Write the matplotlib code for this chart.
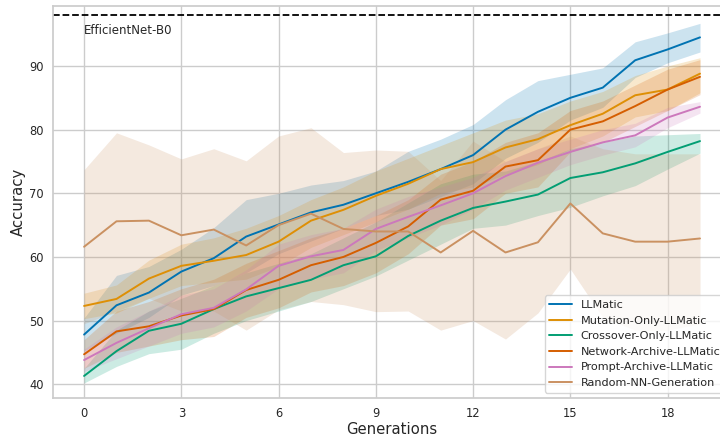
#!/usr/bin/env python3
"""Accuracy over generations for the LLMatic ablations, mean line with a shaded band."""

import matplotlib
matplotlib.use("Agg")
import matplotlib.pyplot as plt
import seaborn as sns

GENERATIONS = list(range(20))
BASELINE_ACC = 98.0          # EfficientNet-B0 reference
BASELINE_LABEL = "EfficientNet-B0"

SERIES_NAMES = ["LLMatic", "Mutation-Only-LLMatic", "Crossover-Only-LLMatic",
                "Network-Archive-LLMatic", "Prompt-Archive-LLMatic",
                "Random-NN-Generation"]

llmatic_mean = [47.8, 52.4, 54.4, 57.7, 59.8, 63.2, 65.1, 67.0, 68.2, 70.0,
                71.8, 73.8, 76.0, 80.0, 82.8, 85.0, 86.6, 90.9, 92.6, 94.5]
llmatic_hi = [50.4, 57.1, 58.5, 61.2, 64.6, 69.0, 70.0, 71.3, 72.0, 73.5,
              76.6, 78.5, 80.8, 84.7, 87.7, 88.7, 89.7, 93.8, 95.2, 96.7]
llmatic_lo = [45.2, 48.0, 50.5, 54.0, 55.5, 57.5, 60.5, 62.5, 64.5, 66.5,
              67.5, 69.5, 71.5, 75.5, 78.0, 81.5, 83.5, 88.2, 90.5, 92.2]

mutation_mean = [52.3, 53.4, 56.6, 58.6, 59.4, 60.3, 62.4, 65.7, 67.4, 69.6,
                 71.5, 73.8, 74.9, 77.2, 78.5, 80.7, 82.5, 85.4, 86.3, 88.8]
mutation_hi = [54.3, 55.6, 59.5, 62.0, 63.0, 64.5, 66.5, 69.0, 71.0, 73.5,
               75.5, 77.5, 79.5, 81.5, 82.5, 84.5, 86.0, 88.5, 90.0, 91.3]
mutation_lo = [50.3, 51.2, 53.5, 55.5, 56.0, 56.5, 58.5, 61.5, 63.5, 65.5,
               67.5, 70.0, 71.0, 73.0, 74.5, 77.0, 79.0, 82.0, 83.0, 85.8]

crossover_mean = [41.3, 45.2, 48.4, 49.5, 51.8, 53.8, 55.1, 56.4, 58.7, 60.1,
                  63.3, 65.7, 67.7, 68.7, 69.8, 72.4, 73.3, 74.7, 76.5, 78.2]
crossover_hi = [42.5, 48.5, 51.5, 53.5, 55.5, 57.5, 59.0, 60.5, 63.0, 65.5,
                68.5, 71.5, 73.0, 73.5, 75.0, 77.0, 78.0, 79.0, 79.2, 79.4]
crossover_lo = [40.2, 42.8, 44.8, 45.5, 48.0, 50.0, 51.5, 53.0, 55.0, 57.0,
                59.5, 62.0, 64.5, 65.0, 66.5, 67.8, 69.6, 71.2, 73.8, 76.3]

network_mean = [44.7, 48.3, 49.1, 50.8, 51.8, 54.8, 56.4, 58.7, 60.0, 62.2,
                64.8, 69.0, 70.4, 74.2, 75.2, 80.0, 81.3, 83.7, 86.3, 88.3]
network_hi = [47.0, 51.5, 53.0, 55.0, 56.5, 59.0, 61.0, 63.0, 64.5, 66.5,
              69.0, 73.0, 75.0, 78.0, 79.5, 83.0, 84.5, 87.0, 89.5, 91.0]
network_lo = [42.5, 45.0, 46.0, 47.0, 47.5, 50.5, 52.0, 54.5, 55.5, 57.5,
              60.5, 65.0, 66.0, 70.0, 71.0, 76.5, 78.0, 80.5, 83.0, 85.5]

prompt_mean = [43.8, 46.5, 48.8, 51.0, 52.0, 54.9, 58.6, 60.1, 61.1, 64.4,
               66.3, 68.1, 70.0, 72.7, 74.8, 76.5, 78.0, 79.1, 81.9, 83.6]
prompt_hi = [45.5, 49.0, 51.5, 54.0, 55.0, 58.0, 62.0, 63.5, 64.5, 67.5,
             69.5, 71.0, 72.5, 75.0, 77.0, 78.5, 80.0, 81.0, 83.5, 84.4]
prompt_lo = [42.0, 44.0, 46.0, 48.0, 49.0, 51.5, 55.0, 56.5, 57.5, 61.0,
             63.0, 65.0, 67.5, 70.5, 72.5, 74.5, 76.0, 77.3, 80.3, 82.6]

random_mean = [61.6, 65.6, 65.7, 63.4, 64.3, 61.8, 65.0, 66.8, 64.4, 64.0,
               64.0, 60.7, 64.1, 60.7, 62.3, 68.4, 63.7, 62.4, 62.4, 62.9]
random_hi = [73.7, 79.5, 77.6, 75.4, 77.0, 75.1, 79.0, 80.3, 76.4, 76.8,
             76.6, 72.0, 78.2, 75.0, 77.0, 79.0, 77.0, 76.2, 76.2, 76.2]
random_lo = [49.5, 51.5, 53.5, 51.5, 51.5, 48.5, 51.7, 53.0, 52.5, 51.4,
             51.5, 48.5, 50.0, 47.1, 51.2, 58.1, 50.5, 48.5, 48.5, 49.5]

X_TICKS = [0, 3, 6, 9, 12, 15, 18]
Y_TICKS = [40, 50, 60, 70, 80, 90]

sns.set_theme(style="whitegrid")
plt.rcParams["font.family"] = ["DejaVu Sans"]

colors = sns.color_palette("colorblind")
series = [
    (llmatic_mean, llmatic_lo, llmatic_hi),
    (mutation_mean, mutation_lo, mutation_hi),
    (crossover_mean, crossover_lo, crossover_hi),
    (network_mean, network_lo, network_hi),
    (prompt_mean, prompt_lo, prompt_hi),
    (random_mean, random_lo, random_hi),
]

fig = plt.figure(figsize=(7.2, 4.41), dpi=100)
# right edge sits past the canvas, like the cropped original
ax = fig.add_axes([0.074, 0.097, 0.941, 0.889])

for i, (name, (mean, lo, hi)) in enumerate(zip(SERIES_NAMES, series)):
    ax.fill_between(GENERATIONS, lo, hi, color=colors[i], alpha=0.2, linewidth=0)
    ax.plot(GENERATIONS, mean, color=colors[i], linewidth=1.4, label=name)

ax.axhline(BASELINE_ACC, color="black", linestyle="--", linewidth=1.3)
ax.text(0, 95.5, BASELINE_LABEL, fontsize=8.5, color="#262626", va="center")

ax.set_xlim(-0.95, 19.95)
ax.set_ylim(37.8, 99.4)
ax.set_xticks(X_TICKS)
ax.set_yticks(Y_TICKS)
ax.tick_params(length=0, labelsize=8.3)
ax.tick_params(axis="x", pad=6.5)
ax.tick_params(axis="y", pad=7)
ax.set_xlabel("Generations", fontsize=10.7, labelpad=1)
ax.set_ylabel("Accuracy", fontsize=10.7, labelpad=2)

ax.legend(loc="lower right", fontsize=8.1, frameon=True, framealpha=0.8,
          borderaxespad=0.5, labelspacing=0.5)

fig.savefig("out.png", dpi=100)
